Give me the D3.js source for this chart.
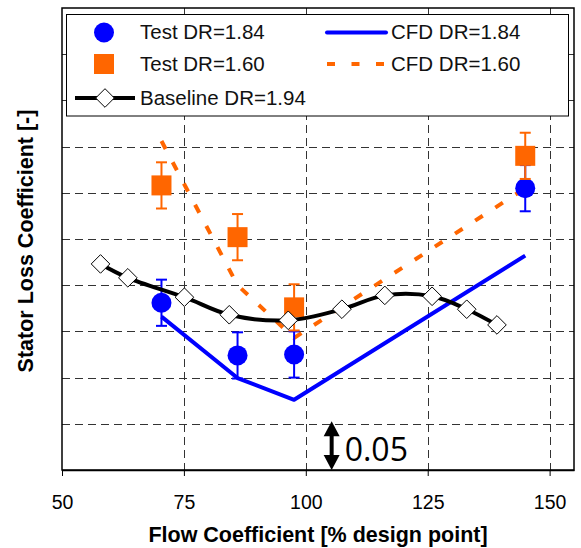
<!DOCTYPE html>
<html><head><meta charset="utf-8">
<script src="https://cdn.jsdelivr.net/npm/d3@7"></script>
<style>body{margin:0;background:#fff}svg{display:block}</style>
</head><body>
<svg id="c" width="581" height="548"></svg>
<script>
// ---- data ----
const xTicks = [50, 75, 100, 125, 150];
const yGrid = [0.05, 0.10, 0.15, 0.20, 0.25, 0.30, 0.35, 0.40, 0.45];
const testX = [70.4, 86.0, 97.6, 145.0];
const test184 = [0.181, 0.124, 0.125, 0.305];
const err184 = [0.025, 0.025, 0.025, 0.025];
const test160 = [0.308, 0.252, 0.176, 0.340];
const err160 = [0.025, 0.025, 0.025, 0.025];
const cfdX = [70.4, 86.0, 97.6, 145.0];
const cfd184 = [0.166, 0.0995, 0.076, 0.232];
const cfd160 = [0.356, 0.200, 0.143, 0.305];
const baseX = [57.9, 63.5, 75.1, 84.3, 96.4, 107.4, 116.2, 125.9, 133.0, 139.2];
const baseY = [0.223, 0.208, 0.187, 0.168, 0.162, 0.174, 0.189, 0.188, 0.174, 0.157];
const scaleBar = {x: 105.3, from: 0, to: 0.05, label: "0.05"};
const legendItems = ["Test DR=1.84", "Test DR=1.60", "Baseline DR=1.94", "CFD DR=1.84", "CFD DR=1.60"];

const BLUE = "#0000FF", ORANGE = "#FF6600";
const FONT = "'Liberation Sans', Arial, sans-serif";

const svg = d3.select("#c");
const L = 62, R = 574, T = 8, B = 470;
const x = d3.scaleLinear().domain([50, 155]).range([L, R]);
const y = d3.scaleLinear().domain([0, 0.5]).range([B, T]);

// gridlines
const grid = svg.append("g").attr("stroke", "#333").attr("stroke-width", 1).attr("stroke-dasharray", "8,5");
grid.selectAll("line.v").data(xTicks.slice(1)).join("line")
  .attr("x1", d => Math.round(x(d)) + 0.5).attr("x2", d => Math.round(x(d)) + 0.5)
  .attr("y1", T).attr("y2", B);
grid.selectAll("line.h").data(yGrid).join("line")
  .attr("x1", L).attr("x2", R)
  .attr("y1", d => Math.round(y(d)) + 0.5).attr("y2", d => Math.round(y(d)) + 0.5);

// frame
svg.append("rect").attr("x", L).attr("y", T).attr("width", R - L).attr("height", B - T)
  .attr("fill", "none").attr("stroke", "#000").attr("stroke-width", 1.5);

// x axis
const xa = svg.append("g").attr("transform", `translate(0,${B})`)
  .call(d3.axisBottom(x).tickValues(xTicks).tickSize(6).tickSizeOuter(0));
xa.select(".domain").attr("stroke", "#000").attr("stroke-width", 1.5);
xa.selectAll(".tick line").attr("stroke", "#000").attr("stroke-width", 1);
xa.selectAll(".tick text").attr("y", 39).attr("dy", 0)
  .attr("font-family", FONT).attr("font-size", 19.5).attr("fill", "#000");

// axis titles
svg.append("text").attr("x", 318).attr("y", 542).attr("text-anchor", "middle")
  .attr("font-family", FONT).attr("font-weight", "bold").attr("font-size", 21.5)
  .text("Flow Coefficient [% design point]");
svg.append("text").attr("transform", "translate(33,241) rotate(-90)").attr("text-anchor", "middle")
  .attr("font-family", FONT).attr("font-weight", "bold").attr("font-size", 21.5)
  .text("Stator Loss Coefficient [-]");

// CFD lines
const line = d3.line().x(d => x(d[0])).y(d => y(d[1]));
svg.append("path").datum(cfdX.map((d, i) => [d, cfd184[i]])).attr("d", line)
  .attr("fill", "none").attr("stroke", BLUE).attr("stroke-width", 4).attr("stroke-linejoin", "round");
svg.append("path").datum(cfdX.map((d, i) => [d, cfd160[i]])).attr("d", line)
  .attr("fill", "none").attr("stroke", ORANGE).attr("stroke-width", 4).attr("stroke-dasharray", "9,15");

// error bars + markers
function errBars(vals, errs, color) {
  const g = svg.append("g").attr("stroke", color).attr("stroke-width", 2);
  testX.forEach((xv, i) => {
    const cx = x(xv), y1 = y(vals[i] + errs[i]), y2 = y(vals[i] - errs[i]);
    g.append("line").attr("x1", cx).attr("x2", cx).attr("y1", y1).attr("y2", y2);
    g.append("line").attr("x1", cx - 5.5).attr("x2", cx + 5.5).attr("y1", y1).attr("y2", y1);
    g.append("line").attr("x1", cx - 5.5).attr("x2", cx + 5.5).attr("y1", y2).attr("y2", y2);
  });
}
errBars(test184, err184, BLUE);
svg.append("g").selectAll("circle").data(testX.map((d, i) => [d, test184[i]])).join("circle")
  .attr("cx", d => x(d[0])).attr("cy", d => y(d[1])).attr("r", 10).attr("fill", BLUE);
errBars(test160, err160, ORANGE);
svg.append("g").selectAll("rect").data(testX.map((d, i) => [d, test160[i]])).join("rect")
  .attr("x", d => x(d[0]) - 10).attr("y", d => y(d[1]) - 10).attr("width", 20).attr("height", 20).attr("fill", ORANGE);

// baseline
const bl = d3.line().x(d => x(d[0])).y(d => y(d[1])).curve(d3.curveCatmullRom.alpha(0.5));
svg.append("path").datum(baseX.map((d, i) => [d, baseY[i]])).attr("d", bl)
  .attr("fill", "none").attr("stroke", "#000").attr("stroke-width", 4);
const diamond = (cx, cy, s) => `M${cx},${cy - s}L${cx + s},${cy}L${cx},${cy + s}L${cx - s},${cy}Z`;
svg.append("g").selectAll("path").data(baseX.map((d, i) => [d, baseY[i]])).join("path")
  .attr("d", d => diamond(x(d[0]), y(d[1]), 9.3)).attr("fill", "#fff").attr("stroke", "#000").attr("stroke-width", 1);

// scale bar annotation
{
  const ax = x(scaleBar.x), yt = y(scaleBar.to) - 2.5, yb = y(scaleBar.from);
  const hh = 15, hw = 8;
  svg.append("line").attr("x1", ax).attr("x2", ax).attr("y1", yt + hh - 1).attr("y2", yb - hh + 1)
    .attr("stroke", "#000").attr("stroke-width", 4);
  svg.append("path").attr("d", `M${ax},${yt}L${ax + hw},${yt + hh}L${ax - hw},${yt + hh}Z`).attr("fill", "#000");
  svg.append("path").attr("d", `M${ax},${yb}L${ax + hw},${yb - hh}L${ax - hw},${yb - hh}Z`).attr("fill", "#000");
  svg.append("text").attr("x", ax + 13).attr("y", 460.5)
    .attr("font-family", "'Open Sans', 'Noto Sans', sans-serif").attr("font-size", 32).text(scaleBar.label);
}

// legend
const lg = svg.append("g");
lg.append("rect").attr("x", 66.5).attr("y", 14.5).attr("width", 502).attr("height", 101.5)
  .attr("fill", "#fff").attr("stroke", "#000").attr("stroke-width", 1);
const rowsY = [32.5, 64, 98];
const baseL = [39, 71, 105];
lg.append("circle").attr("cx", 104).attr("cy", rowsY[0]).attr("r", 10).attr("fill", BLUE);
lg.append("rect").attr("x", 94).attr("y", rowsY[1] - 10).attr("width", 20).attr("height", 20).attr("fill", ORANGE);
lg.append("line").attr("x1", 75).attr("x2", 135).attr("y1", rowsY[2]).attr("y2", rowsY[2]).attr("stroke", "#000").attr("stroke-width", 4);
lg.append("path").attr("d", diamond(105, rowsY[2], 9.3)).attr("fill", "#fff").attr("stroke", "#000");
lg.append("line").attr("x1", 327).attr("x2", 386).attr("y1", rowsY[0]).attr("y2", rowsY[0])
  .attr("stroke", BLUE).attr("stroke-width", 4).attr("stroke-linecap", "round");
lg.append("line").attr("x1", 327).attr("x2", 387).attr("y1", rowsY[1]).attr("y2", rowsY[1])
  .attr("stroke", ORANGE).attr("stroke-width", 4).attr("stroke-dasharray", "8,16.5");
const lt = [[140, baseL[0]], [140, baseL[1]], [140, baseL[2]], [391, baseL[0]], [391, baseL[1]]];
legendItems.forEach((t, i) => {
  lg.append("text").attr("x", lt[i][0]).attr("y", lt[i][1])
    .attr("font-family", FONT).attr("font-size", 20.5).attr("fill", "#111").text(t);
});
</script>
</body></html>
